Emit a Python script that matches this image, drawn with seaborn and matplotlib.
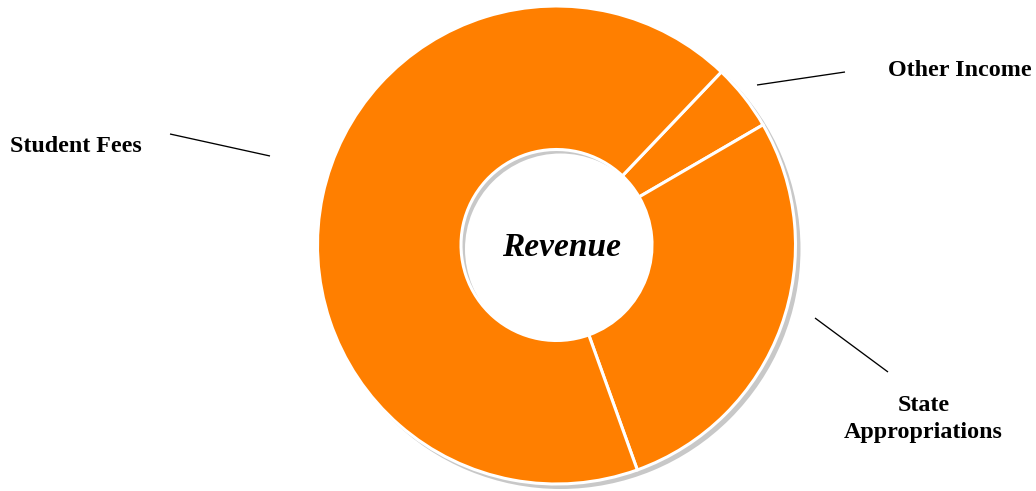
import matplotlib
matplotlib.use("Agg")
import matplotlib.pyplot as plt
import seaborn as sns

sns.set_theme(style="white")
plt.rcParams["font.family"] = ["Liberation Serif", "DejaVu Serif"]

# Revenue breakdown (share of total, %), listed clockwise from the top-right
categories = ["Other Income", "State Appropriations", "Student Fees"]
shares = [4.5, 27.9, 67.6]
center_title = "Revenue"

ORANGE = "#FF7F00"
SHADOW = "#C8C8C8"

W, H = 1036, 491
fig = plt.figure(figsize=(W / 100, H / 100), dpi=100)
ax = fig.add_axes([0, 0, 1, 1])


def px(x, y):
    """Convert top-left based pixel coordinates to axes data coordinates."""
    return x, H - y


cx, cy = px(556.5, 245)
R = 239
RING = 143.5
START = 46.4

# soft drop shadow behind the ring
ax.pie([1], colors=[SHADOW], radius=R + 1, center=(cx + 4, cy - 4),
       startangle=START, counterclock=False,
       wedgeprops=dict(width=RING + 1, linewidth=0))

# the donut itself
ax.pie(shares, colors=[ORANGE] * len(shares), radius=R, center=(cx, cy),
       startangle=START, counterclock=False,
       wedgeprops=dict(width=RING, edgecolor="white", linewidth=2.2))

ax.text(*px(562, 256), center_title, ha="center", va="baseline",
        fontsize=24, fontweight="bold", fontstyle="italic", color="black")

# category labels with their leader lines
label_font = dict(fontsize=17.3, fontweight="bold", color="black")
leaders = {
    "Other Income": ((757, 85), (845, 72)),
    "Student Fees": ((170, 134), (270, 156)),
    "State Appropriations": ((815, 318), (888, 372)),
}
for name in categories:
    (x0, y0), (x1, y1) = leaders[name]
    X0, Y0 = px(x0, y0)
    X1, Y1 = px(x1, y1)
    ax.plot([X0, X1], [Y0, Y1], color="black", linewidth=0.95,
            solid_capstyle="butt")

ax.text(*px(888, 75.5), "Other Income", ha="left", va="baseline", **label_font)
ax.text(*px(10, 152), "Student Fees", ha="left", va="baseline", **label_font)
for line, base in zip(["State", "Appropriations"], [411, 438]):
    ax.text(*px(923.5, base), line, ha="center", va="baseline", **label_font)

ax.set_xlim(0, W)
ax.set_ylim(0, H)
ax.set_aspect("equal", adjustable="datalim")
ax.axis("off")

fig.savefig("out.png", dpi=100, facecolor="white")
